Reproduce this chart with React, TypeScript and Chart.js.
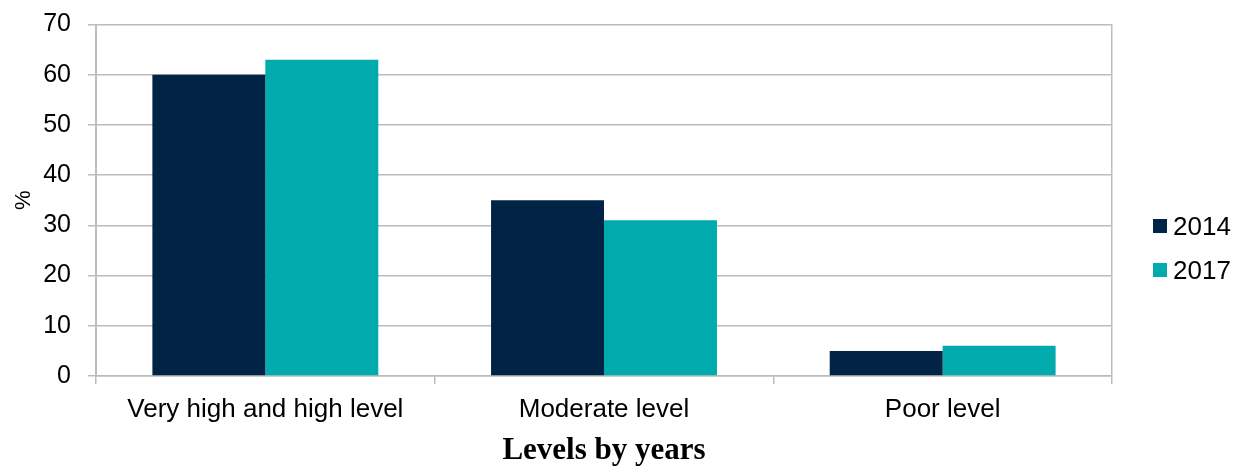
import React, { useEffect, useRef } from "react";
import { Chart, registerables } from "chart.js";

Chart.register(...registerables);

const categories: string[] = ["Very high and high level", "Moderate level", "Poor level"];
const seriesNames: string[] = ["2014", "2017"];
const values2014: number[] = [60, 35, 5];
const values2017: number[] = [63, 31, 6];
const yTickMax = 70;
const yTickStep = 10;
const xTitle = "Levels by years";
const yTitle = "%";

const colors = ["#002346", "#00AAAD"];
const gray = "#bcbcbc";
const sans = "'Liberation Sans', Arial, sans-serif";

export default function App() {
  const ref = useRef<HTMLCanvasElement | null>(null);

  useEffect(() => {
    if (!ref.current) return;
    const chart = new Chart(ref.current, {
      type: "bar",
      data: {
        labels: categories,
        datasets: [
          { label: seriesNames[0], data: values2014, backgroundColor: colors[0], borderWidth: 0 },
          { label: seriesNames[1], data: values2017, backgroundColor: colors[1], borderWidth: 0 },
        ],
      },
      options: {
        animation: false,
        responsive: true,
        maintainAspectRatio: false,
        devicePixelRatio: 1,
        datasets: { bar: { categoryPercentage: 0.667, barPercentage: 1 } },
        layout: { padding: { top: 24.5, right: 130, bottom: 0, left: 0 } },
        plugins: { legend: { display: false }, tooltip: { enabled: false } },
        scales: {
          x: {
            grid: {
              offset: true,
              drawOnChartArea: true,
              color: (c: any) => (c.index === 0 || c.index === 1 || c.index === 2 ? "transparent" : gray),
              tickColor: gray,
              tickLength: 8,
              lineWidth: 1.5,
            },
            border: { display: true, color: gray, width: 1.5 },
            ticks: { color: "#000", font: { family: sans, size: 26 }, padding: 10, maxRotation: 0 },
            title: {
              display: true,
              text: xTitle,
              color: "#000",
              font: { family: "'Liberation Serif', 'Times New Roman', serif", size: 31, weight: "bold", lineHeight: 1 },
              padding: { top: 0, bottom: 0 },
            },
            afterFit: (s: any) => {
              s.height = 90;
              s.paddingLeft = 0;
              s.paddingRight = 0;
            },
          },
          y: {
            min: 0,
            max: yTickMax,
            ticks: { stepSize: yTickStep, color: "#000", font: { family: sans, size: 25 }, padding: 17 },
            grid: { color: gray, lineWidth: 1.5, tickLength: 8, tickColor: gray },
            border: { display: true, color: gray, width: 2 },
            title: {
              display: true,
              text: yTitle,
              color: "#000",
              font: { family: sans, size: 22 },
              padding: { top: 11, bottom: 0 },
            },
            afterFit: (s: any) => {
              s.width = 96;
              s.paddingTop = 0;
              s.paddingBottom = 0;
            },
          },
        },
      },
    });
    return () => chart.destroy();
  }, []);

  return (
    <div style={{ position: "fixed", left: 0, top: 0, width: 1242, height: 466, background: "#fff" }}>
      <canvas ref={ref} />
      <div style={{ position: "absolute", left: 1153, top: 204, fontFamily: sans, fontSize: 26, color: "#000" }}>
        {seriesNames.map((n, i) => (
          <div key={n} style={{ display: "flex", alignItems: "center", height: 44 }}>
            <span style={{ display: "inline-block", width: 14, height: 14, background: colors[i], marginRight: 6 }} />
            <span style={{ lineHeight: "30px" }}>{n}</span>
          </div>
        ))}
      </div>
    </div>
  );
}
